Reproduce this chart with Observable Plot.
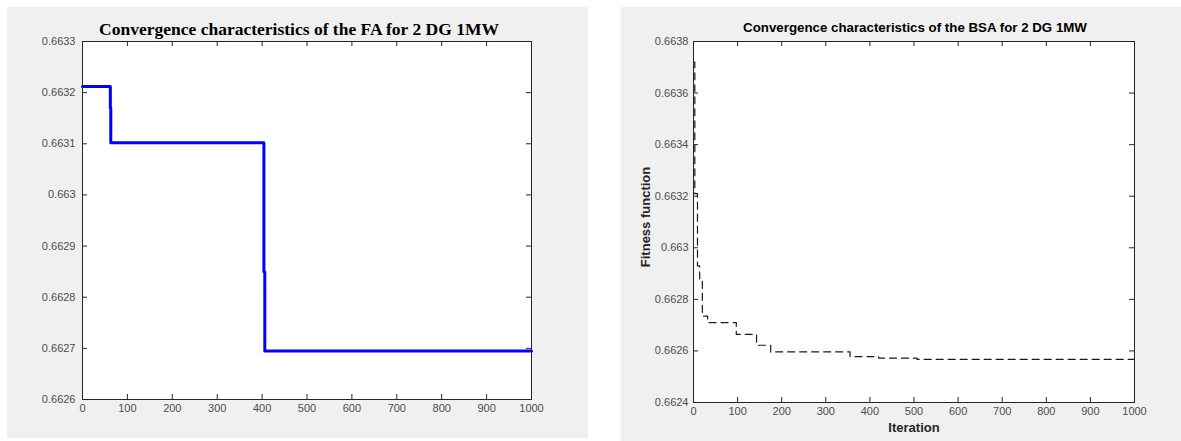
<!DOCTYPE html>
<html>
<head>
<meta charset="utf-8">
<script src="https://cdn.jsdelivr.net/npm/d3@7"></script>
<script src="https://cdn.jsdelivr.net/npm/@observablehq/plot@0.6"></script>
<style>
  html, body { margin: 0; padding: 0; background: #ffffff; width: 1181px; height: 441px; overflow: hidden; }
  .panel { position: absolute; background: #f0f0f0; }
  #left { left: 7px; top: 7px; width: 581px; height: 431px; }
  #right { left: 621px; top: 7px; width: 560px; height: 434px; }
</style>
</head>
<body>
<div id="left" class="panel"></div>
<div id="right" class="panel"></div>
<script>
// ---- data ----
const faTitle = "Convergence characteristics of the FA for 2 DG 1MW";
const bsaTitle = "Convergence characteristics of the BSA for 2 DG 1MW";
const bsaXLabel = "Iteration";
const bsaYLabel = "Fitness function";

const faIter    = [0, 61, 62, 63, 403, 404, 406, 1000];
const faFitness = [0.663212, 0.663212, 0.66317, 0.663102, 0.663102, 0.66285, 0.662695, 0.662695];

const bsaIter    = [0, 3, 9, 14, 20, 32, 97, 143, 175, 355, 420, 507, 1000];
const bsaFitness = [0.66372, 0.66321, 0.66293, 0.66287, 0.662735, 0.66271, 0.662664, 0.662622, 0.662596, 0.662578, 0.662572, 0.662567, 0.662567];

const xTicks = [0, 100, 200, 300, 400, 500, 600, 700, 800, 900, 1000];
const faYTicks = [0.6626, 0.6627, 0.6628, 0.6629, 0.663, 0.6631, 0.6632, 0.6633];
const bsaYTicks = [0.6624, 0.6626, 0.6628, 0.663, 0.6632, 0.6634, 0.6636, 0.6638];

// ---- helpers ----
const fmt = d => String(+d.toFixed(4));
const axisColor = "#262626";
const labelColor = "#4d4d4d";

function inwardTicks(xt, yt, h, w) {
  return [
    Plot.tickX(xt, {x: d => d, insetTop: h - 5, stroke: axisColor}),
    Plot.tickX(xt, {x: d => d, insetBottom: h - 5, stroke: axisColor}),
    Plot.tickY(yt, {y: d => d, insetRight: w - 5, stroke: axisColor}),
    Plot.tickY(yt, {y: d => d, insetLeft: w - 5, stroke: axisColor})
  ];
}

// ---- left chart (FA) ----
const fa = faIter.map((x, i) => ({iter: x, fit: faFitness[i]}));
{
  const W = 581, H = 431, mL = 75, mR = 57, mT = 34, mB = 39;
  const pw = W - mL - mR, ph = H - mT - mB;
  const chart = Plot.plot({
    width: W, height: H,
    marginLeft: mL, marginRight: mR, marginTop: mT, marginBottom: mB,
    style: {background: "transparent", fontFamily: "Liberation Sans, Arial, sans-serif", fontSize: "11px", color: labelColor},
    x: {domain: [0, 1000]},
    y: {domain: [0.6626, 0.6633]},
    marks: [
      Plot.frame({fill: "white", stroke: null}),
      Plot.axisX({ticks: xTicks, tickSize: 0, tickPadding: 5, tickFormat: d => String(d), label: null}),
      Plot.axisY({ticks: faYTicks, tickSize: 0, tickPadding: 7, tickFormat: fmt, label: null}),
      ...inwardTicks(xTicks, faYTicks, ph, pw),
      Plot.line(fa, {x: "iter", y: "fit", curve: "step-after", stroke: "#0000ff", strokeWidth: 3}),
      Plot.frame({stroke: axisColor, strokeWidth: 1}),
      Plot.text([faTitle], {text: d => d, frameAnchor: "top", dy: -19, dx: -8, fontFamily: "Liberation Serif, Times New Roman, serif", fontWeight: "bold", fontSize: 17.5, fill: "#000"})
    ]
  });
  document.getElementById("left").appendChild(chart);
}

// ---- right chart (BSA) ----
const bsa = bsaIter.map((x, i) => ({iter: x, fit: bsaFitness[i]}));
{
  const W = 560, H = 434, mL = 72, mR = 47, mT = 34, mB = 39;
  const pw = W - mL - mR, ph = H - mT - mB;
  const chart = Plot.plot({
    width: W, height: H,
    marginLeft: mL, marginRight: mR, marginTop: mT, marginBottom: mB,
    style: {background: "transparent", fontFamily: "Liberation Sans, Arial, sans-serif", fontSize: "11px", color: labelColor},
    x: {domain: [0, 1000]},
    y: {domain: [0.6624, 0.6638]},
    marks: [
      Plot.frame({fill: "white", stroke: null}),
      Plot.axisX({ticks: xTicks, tickSize: 0, tickPadding: 5, tickFormat: d => String(d), label: null}),
      Plot.axisY({ticks: bsaYTicks, tickSize: 0, tickPadding: 5, tickFormat: fmt, label: null}),
      ...inwardTicks(xTicks, bsaYTicks, ph, pw),
      Plot.line(bsa, {x: "iter", y: "fit", curve: "step-after", stroke: "#1a1a1a", strokeWidth: 1.2, strokeDasharray: "7,5"}),
      Plot.frame({stroke: axisColor, strokeWidth: 1}),
      Plot.text([bsaTitle], {text: d => d, frameAnchor: "top", dy: -19, dx: 1, fontWeight: "bold", fontSize: 13.3, fill: "#000"}),
      Plot.text([bsaXLabel], {text: d => d, frameAnchor: "bottom", dy: 29, fontWeight: "bold", fontSize: 13, fill: "#262626"}),
      Plot.text([bsaYLabel], {text: d => d, frameAnchor: "left", textAnchor: "middle", dx: -48, dy: -5, rotate: -90, fontWeight: "bold", fontSize: 13, fill: "#262626"})
    ]
  });
  document.getElementById("right").appendChild(chart);
}
</script>
</body>
</html>
